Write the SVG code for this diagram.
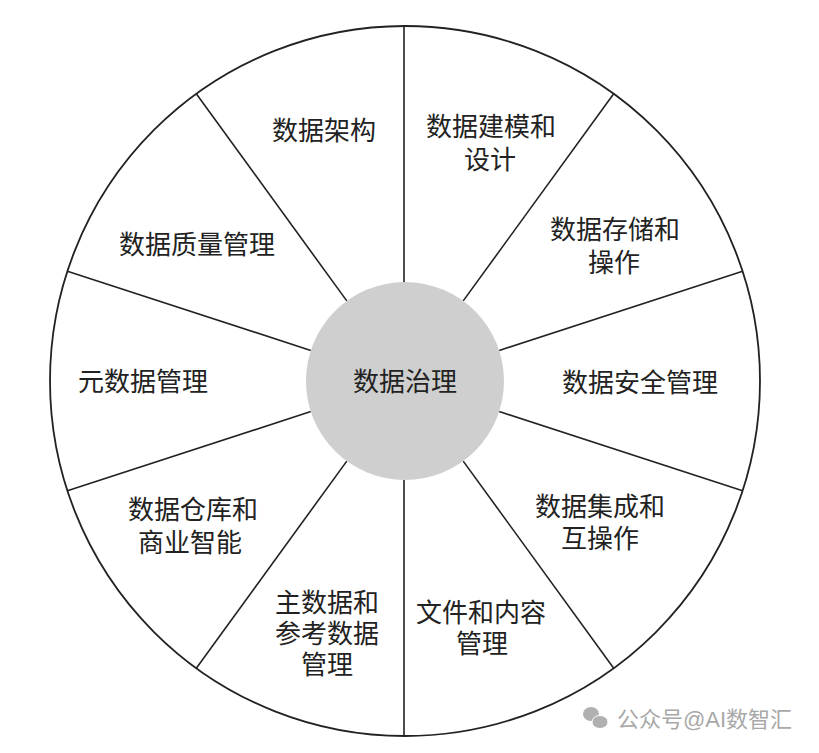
<svg xmlns="http://www.w3.org/2000/svg" width="819" height="753" viewBox="0 0 819 753">
<style>
.lbl{font-family:"Liberation Serif","Noto Sans CJK SC",serif;font-size:26px;fill:#222;text-anchor:middle;dominant-baseline:central}
.spoke{stroke:#222;stroke-width:1.6;fill:none}
.wm{font-family:"Liberation Sans","Noto Sans CJK SC",sans-serif;font-size:22px;fill:#a8a8a8;dominant-baseline:central}
</style>
<rect width="819" height="753" fill="#ffffff"/>
<g id="wheel">
<circle cx="405" cy="381" r="355" fill="#ffffff" stroke="#222" stroke-width="1.8"/>
</g>
<g id="connectors">
<line class="spoke" x1="404" y1="282" x2="404" y2="26"/>
<line class="spoke" x1="463.2" y1="300.9" x2="613.7" y2="93.8"/>
<line class="spoke" x1="499.2" y1="350.4" x2="742.6" y2="271.3"/>
<line class="spoke" x1="499.2" y1="411.6" x2="742.6" y2="490.7"/>
<line class="spoke" x1="463.2" y1="461.1" x2="613.7" y2="668.2"/>
<line class="spoke" x1="404" y1="480" x2="404" y2="736"/>
<line class="spoke" x1="346.8" y1="461.1" x2="196.3" y2="668.2"/>
<line class="spoke" x1="310.8" y1="411.6" x2="67.4" y2="490.7"/>
<line class="spoke" x1="310.8" y1="350.4" x2="67.4" y2="271.3"/>
<line class="spoke" x1="346.8" y1="300.9" x2="196.3" y2="93.8"/>
</g>
<g id="center">
<circle cx="405" cy="381" r="99" fill="#cfcfcf"/>
<text class="lbl" x="405" y="382">数据治理</text>
</g>
<g id="n-arch"><text class="lbl" x="324" y="131">数据架构</text></g>
<g id="n-model"><text class="lbl" x="491" y="127">数据建模和</text><text class="lbl" x="490" y="160">设计</text></g>
<g id="n-storage"><text class="lbl" x="615" y="230">数据存储和</text><text class="lbl" x="614" y="263">操作</text></g>
<g id="n-security"><text class="lbl" x="640" y="383">数据安全管理</text></g>
<g id="n-integration"><text class="lbl" x="600" y="507">数据集成和</text><text class="lbl" x="600" y="539">互操作</text></g>
<g id="n-document"><text class="lbl" x="481" y="613">文件和内容</text><text class="lbl" x="482" y="644">管理</text></g>
<g id="n-master"><text class="lbl" x="327" y="603">主数据和</text><text class="lbl" x="327" y="634">参考数据</text><text class="lbl" x="327" y="665">管理</text></g>
<g id="n-dw"><text class="lbl" x="193" y="510">数据仓库和</text><text class="lbl" x="190" y="543">商业智能</text></g>
<g id="n-meta"><text class="lbl" x="143" y="382">元数据管理</text></g>
<g id="n-quality"><text class="lbl" x="197" y="245">数据质量管理</text></g>
<g id="watermark">
<ellipse cx="591" cy="714" rx="8" ry="7" fill="#b0b0b0"/>
<ellipse cx="600" cy="722" rx="8" ry="6.5" fill="#b0b0b0" stroke="#fff" stroke-width="1"/>
<text class="wm" x="617" y="719">公众号@AI数智汇</text>
</g>
</svg>
